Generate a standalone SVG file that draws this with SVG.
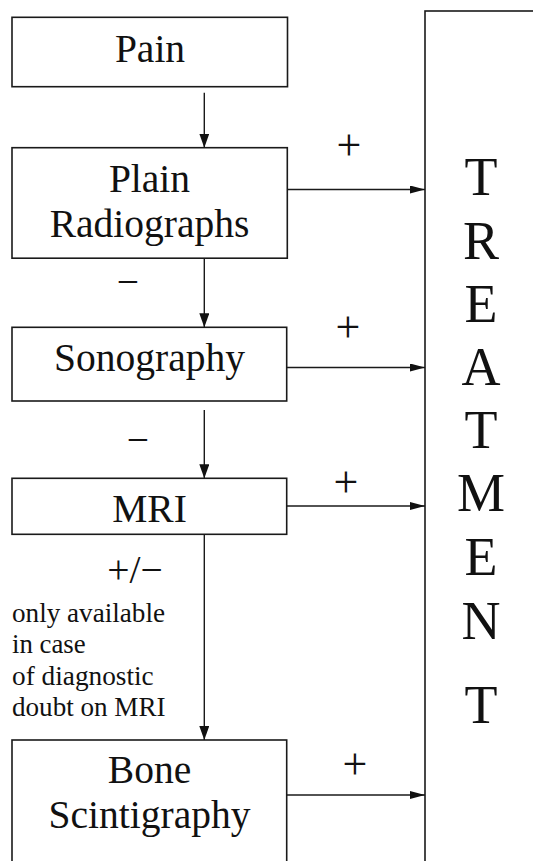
<svg xmlns="http://www.w3.org/2000/svg" width="533" height="861" viewBox="0 0 533 861">
<style>
.box{fill:#fff;stroke:#1a1a1a;stroke-width:1.6}
.lbl{font-family:"Liberation Serif","Times New Roman",serif;font-size:39.5px;fill:#111;text-anchor:middle}
.pl{font-family:"Liberation Serif","Times New Roman",serif;font-size:44px;fill:#111;text-anchor:middle}
.note{font-family:"Liberation Serif","Times New Roman",serif;font-size:28px;fill:#111}
.big{font-family:"Liberation Serif","Times New Roman",serif;font-size:54px;fill:#111;text-anchor:middle}
.c{fill:none;stroke:#1a1a1a;stroke-width:1.4}
</style>
<defs>
<marker id="ad" markerUnits="userSpaceOnUse" markerWidth="10" markerHeight="14" refX="5" refY="14" orient="0">
<path d="M0,0 L10,0 L5,14 Z" fill="#111"/>
</marker>
<marker id="ar" markerUnits="userSpaceOnUse" markerWidth="15" markerHeight="8" refX="15" refY="4" orient="0">
<path d="M0,0 L15,4 L0,8 Z" fill="#111"/>
</marker>
</defs>
<rect width="533" height="861" fill="#fff"/>

<g id="treatment">
<rect class="box" x="425" y="11" width="200" height="900"/>
<text class="big" x="481" y="195">T</text>
<text class="big" x="481" y="258.5">R</text>
<text class="big" x="481" y="322">E</text>
<text class="big" x="481" y="385">A</text>
<text class="big" x="481" y="448">T</text>
<text class="big" x="481" y="511">M</text>
<text class="big" x="481" y="575">E</text>
<text class="big" x="481" y="639">N</text>
<text class="big" x="481" y="723">T</text>
</g>

<g id="pain">
<rect class="box" x="12" y="17.3" width="275.5" height="69.4"/>
<text class="lbl" x="150" y="62">Pain</text>
</g>

<g id="plain-radiographs">
<rect class="box" x="12" y="147.7" width="275.3" height="110.5"/>
<text class="lbl" x="149.5" y="192">Plain</text>
<text class="lbl" x="149.5" y="237">Radiographs</text>
</g>

<g id="sonography">
<rect class="box" x="12" y="327.3" width="274.7" height="73.7"/>
<text class="lbl" x="149.5" y="371">Sonography</text>
</g>

<g id="mri">
<rect class="box" x="12" y="478.3" width="274.7" height="56"/>
<text class="lbl" x="149.5" y="522">MRI</text>
</g>

<g id="bone-scintigraphy">
<rect class="box" x="12" y="740" width="274.7" height="160"/>
<text class="lbl" x="149.5" y="783">Bone</text>
<text class="lbl" x="149.5" y="828">Scintigraphy</text>
</g>

<g id="connectors">
<line class="c" x1="204.3" y1="92.7" x2="204.3" y2="147.7" marker-end="url(#ad)"/>
<line class="c" x1="204.3" y1="258.2" x2="204.3" y2="327.3" marker-end="url(#ad)"/>
<line class="c" x1="204.3" y1="410" x2="204.3" y2="478.3" marker-end="url(#ad)"/>
<line class="c" x1="204.3" y1="534.3" x2="204.3" y2="740" marker-end="url(#ad)"/>
<line class="c" x1="287.3" y1="189.5" x2="425" y2="189.5" marker-end="url(#ar)"/>
<line class="c" x1="286.7" y1="367.5" x2="425" y2="367.5" marker-end="url(#ar)"/>
<line class="c" x1="286.7" y1="506" x2="425" y2="506" marker-end="url(#ar)"/>
<line class="c" x1="286.7" y1="795" x2="425" y2="795" marker-end="url(#ar)"/>
<text class="pl" x="349" y="159.5">+</text>
<text class="pl" x="348" y="342">+</text>
<text class="pl" x="346" y="497">+</text>
<text class="pl" x="355" y="778.5">+</text>
<text class="lbl" x="128" y="295">−</text>
<text class="lbl" x="138" y="452.5">−</text>
<text class="lbl" x="135" y="583">+/−</text>
<text class="note" x="12" y="621.5" textLength="153" lengthAdjust="spacingAndGlyphs">only available</text>
<text class="note" x="12" y="653.3" textLength="73.7" lengthAdjust="spacingAndGlyphs">in case</text>
<text class="note" x="12" y="685" textLength="141.7" lengthAdjust="spacingAndGlyphs">of diagnostic</text>
<text class="note" x="12" y="716" textLength="153.5" lengthAdjust="spacingAndGlyphs">doubt on MRI</text>
</g>
</svg>
